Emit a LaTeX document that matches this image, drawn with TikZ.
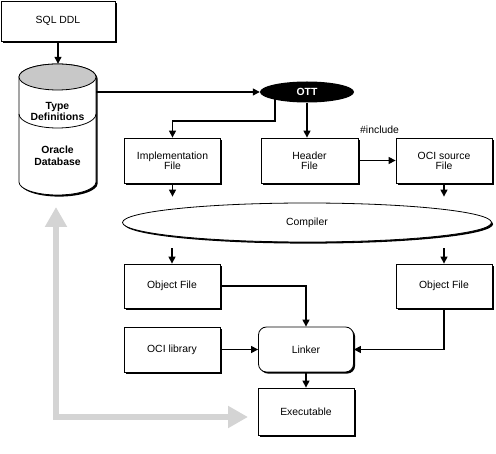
\documentclass[tikz,border=0pt]{standalone}
\usepackage{fontspec}
\setmainfont{Liberation Sans}
\usetikzlibrary{arrows.meta,shapes.geometric,shadows,backgrounds}
\definecolor{fbgray}{RGB}{212,212,212}
\definecolor{topgray}{RGB}{200,200,200}
\begin{document}
\begin{tikzpicture}[x=1pt,y=-1pt,
  font=\fontsize{10.4}{10}\selectfont,
  shadowed/.style={drop shadow={shadow xshift=1.6pt,shadow yshift=-1.6pt,fill=black,opacity=1}},
  box/.style={draw, line width=0.8pt, fill=white, minimum width=96pt, minimum height=45pt,
              align=center, inner sep=0pt, shadowed},
  arr/.style={line width=1.3pt, -{Triangle[length=7pt,width=7pt]}},
  feedback/.style={line width=6pt, draw=fbgray, line join=miter,
              {Triangle[length=20pt,width=21pt]}-{Triangle[length=20pt,width=21pt]}},
  cyltext/.style={font=\fontsize{10.4}{11}\selectfont\bfseries, align=center, inner sep=0pt}
]
\useasboundingbox (0,0) rectangle (496,454);

% ---- database cylinder ----
\begin{scope}[xshift=1.6pt,yshift=-1.6pt]
  \fill[black] (19,77) -- (19,182) arc[start angle=180,end angle=360,x radius=38.5pt,y radius=13pt]
     -- (96,77) arc[start angle=0,end angle=180,x radius=38.5pt,y radius=13pt] -- cycle;
\end{scope}
\filldraw[fill=white, line width=0.8pt] (19,77) -- (19,182)
   arc[start angle=180,end angle=360,x radius=38.5pt,y radius=13pt]
   -- (96,77) arc[start angle=0,end angle=180,x radius=38.5pt,y radius=13pt] -- cycle;
\filldraw[fill=topgray, line width=0.8pt] (57.5,77) ellipse[x radius=38.5pt,y radius=13pt];
\draw[line width=0.8pt] (19,114) arc[start angle=180,end angle=360,x radius=38.5pt,y radius=14pt];
\node[minimum width=77pt, minimum height=131pt, inner sep=0pt] (db) at (57.5,129.5) {};
\node[cyltext] (typedef) at (57.5,111.5) {Type\\Definitions};
\node[cyltext, font=\fontsize{10.4}{12}\selectfont\bfseries] (oracle) at (57.5,156) {Oracle\\Database};

% ---- nodes ----
\node[box, minimum width=114pt, minimum height=40pt] (sql) at (58,21) {SQL DDL};
\node[ellipse, fill=black, text=white, font=\fontsize{10.4}{10}\selectfont\bfseries,
      minimum width=94pt, minimum height=21pt, inner sep=0pt] (ott) at (307,92) {OTT};
\node[box] (impl) at (172.5,160.5) {Implementation\\File};
\node[box, minimum width=97pt] (hdr) at (309.5,160.5) {Header\\File};
\node[box] (ocisrc) at (444,160.5) {OCI source\\File};
\node[anchor=west, inner sep=2pt] (inc) at (358,130) {\#include};
\node[ellipse, draw, line width=0.8pt, fill=white, minimum width=369pt, minimum height=39pt,
      inner sep=0pt, shadowed] (comp) at (307,222.5) {Compiler};
\node[box, minimum height=44pt] (obj1) at (172,286) {Object File};
\node[box, minimum height=44pt] (obj2) at (444,286) {Object File};
\node[box] (ocilib) at (172,349.5) {OCI library};
\node[box, rounded corners=8pt, minimum width=95pt] (link) at (306,349.5) {Linker};
\node[box, minimum height=47pt] (exe) at (306,411.5) {Executable};

% ---- connectors ----
\draw[arr] (sql.south) -- (sql.south |- db.north);
\draw[arr] (db.east |- ott.west) -- (ott.west);
\begin{scope}[on background layer]
  \draw[arr] ([xshift=-32pt]ott.center) -- ++(0,29) -| (impl.north);
\end{scope}
\draw[arr] (ott.south) -- (ott.south |- hdr.north);
\draw[arr] (hdr.east) -- (ocisrc.west);
\draw[arr, shorten >=6pt] (impl.south) -- (impl.south |- comp.north);
\draw[arr, shorten >=6pt] (ocisrc.south) -- (ocisrc.south |- comp.north);
\draw[arr, shorten <=6pt] (comp.south -| obj1.north) -- (obj1.north);
\draw[arr, shorten <=6pt] (comp.south -| obj2.north) -- (obj2.north);
\draw[arr] (obj1.east) -| (link.north);
\draw[arr] (ocilib.east) -- (link.west);
\draw[arr] (obj2.south) |- (link.east);
\draw[arr] (link.south) -- (exe.north);

% ---- feedback arrow ----
\coordinate (fbtop) at (56,207);
\coordinate (fbright) at (248,417);
\draw[feedback] (fbright) -| (fbtop);
\end{tikzpicture}
\end{document}
